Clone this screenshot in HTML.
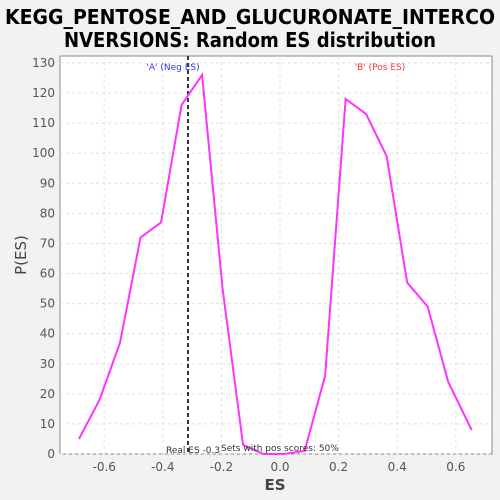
<!DOCTYPE html>
<html><head><meta charset="utf-8"><style>
body{margin:0;background:#f2f2f2;}
svg{display:block;font-family:"DejaVu Sans","Liberation Sans",sans-serif;}
</style></head><body>
<svg width="500" height="500">
<text x="250" y="24" text-anchor="middle" font-size="20" font-weight="bold" textLength="490" lengthAdjust="spacingAndGlyphs">KEGG_PENTOSE_AND_GLUCURONATE_INTERCO</text>
<text x="250" y="47" text-anchor="middle" font-size="20" font-weight="bold" textLength="372" lengthAdjust="spacingAndGlyphs">NVERSIONS: Random ES distribution</text>
<rect x="60" y="56" width="432" height="398" fill="#fff" stroke="#888"/>
<g id="grid"></g><g id="axes"></g><g id="marks"></g>
<text x="173" y="70" text-anchor="middle" font-size="9" fill="#3333ff">'A' (Neg ES)</text>
<text x="380" y="70" text-anchor="middle" font-size="9" fill="#ff3333">'B' (Pos ES)</text>
<text x="166" y="453" font-size="9" fill="#333">Real ES -0.3</text>
<text x="221" y="451" font-size="9" fill="#333">Sets with pos scores: 50%</text>
<text x="275" y="490" text-anchor="middle" font-size="15" font-weight="bold" fill="#444">ES</text>
<text x="26" y="255" text-anchor="middle" font-size="15" fill="#444" transform="rotate(-90 26 255)">P(ES)</text>
</svg>
<script>
const xValues=[-0.686,-0.616,-0.546,-0.476,-0.406,-0.336,-0.266,-0.196,-0.126,-0.056,0.014,0.084,0.154,0.224,0.294,0.364,0.434,0.504,0.574,0.654];
const yValues=[5,18,37,72,77,116,126,55,3,0,0,1,26,118,113,99,57,49,24,8];
const xTicks=[-0.6,-0.4,-0.2,0.0,0.2,0.4,0.6];
const yTicks=[0,10,20,30,40,50,60,70,80,90,100,110,120,130];
const realES=-0.314;
const NS="http://www.w3.org/2000/svg";
const sx=v=>280+v*293;
const sy=v=>454-v*3.008;
function mk(t,a,p){const e=document.createElementNS(NS,t);for(const k in a)e.setAttribute(k,a[k]);p.appendChild(e);return e;}
const grid=document.getElementById('grid'),axes=document.getElementById('axes'),marks=document.getElementById('marks');
xTicks.forEach(t=>{
 const g=mk('line',{x1:sx(t),x2:sx(t),y1:56,y2:454,stroke:'#e0e0e0','stroke-dasharray':'3,3'},grid);
 
 
 const l=mk('text',{x:sx(t),y:471,'text-anchor':'middle','font-size':12,fill:'#555'},axes);
 l.textContent=t.toFixed(1);
 
 
});
yTicks.forEach(t=>{
 const g=mk('line',{x1:60,x2:492,y1:sy(t),y2:sy(t),stroke:'#e0e0e0','stroke-dasharray':'3,3'},grid);
 
 
 const l=mk('text',{x:55,y:sy(t)+4,'text-anchor':'end','font-size':12,fill:'#555'},axes);
 l.textContent=t;
 
 
});
const rl=mk('line',{x1:sx(realES),x2:sx(realES),y1:56,y2:454,stroke:'#333','stroke-width':2,'stroke-dasharray':'4,3'},marks);


const pl=mk('polyline',{points:xValues.map((x,i)=>sx(x)+','+sy(yValues[i])).join(' '),fill:'none',stroke:'#ff33ff','stroke-width':2},marks);


</script>
</body></html>
